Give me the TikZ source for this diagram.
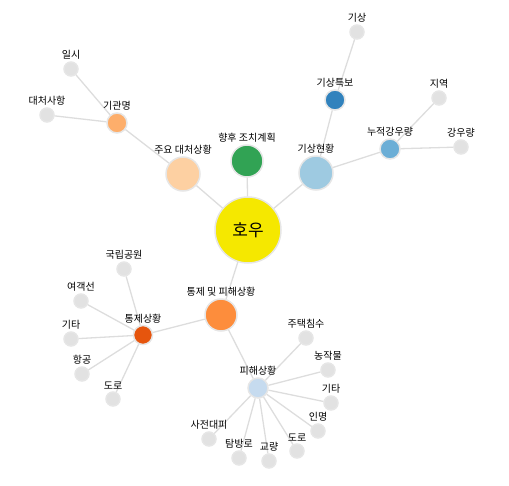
\documentclass[tikz,border=0pt]{standalone}
\usepackage{fontspec}
\newfontfamily\kr{Noto Sans CJK KR}
\definecolor{cYel}{RGB}{245,232,0}
\definecolor{cOr1}{HTML}{FDD0A2}
\definecolor{cOr2}{HTML}{FDAE6B}
\definecolor{cOr3}{HTML}{FD8D3C}
\definecolor{cOr4}{HTML}{E6550D}
\definecolor{cGrn}{HTML}{31A354}
\definecolor{cBl1}{HTML}{9ECAE1}
\definecolor{cBl2}{HTML}{3182BD}
\definecolor{cBl3}{HTML}{6BAED6}
\definecolor{cBl4}{HTML}{C6DBEF}
\definecolor{cLeaf}{HTML}{E2E2E2}
\definecolor{cRim}{HTML}{E6E6E6}
\definecolor{cEdge}{HTML}{DDDDDD}
\tikzset{
  nd/.style={circle, draw=cRim, line width=1.5pt, inner sep=0pt, minimum size=#1},
  lf/.style={nd=14pt, fill=cLeaf},
  lab/.style={font=\kr\fontsize{10}{12}\selectfont, anchor=south, inner sep=0pt, yshift=1.5pt},
  ed/.style={draw=cEdge, line width=1.3pt}
}
\begin{document}
\begin{tikzpicture}[x=1pt,y=-1pt]
\useasboundingbox (0,0) rectangle (509,485);
% nodes
\node[nd=66pt, fill=cYel] (hw) at (248,230) {};
\node[nd=34pt, fill=cOr1] (jy) at (183,174) {};
\node[nd=32pt, fill=cGrn] (hh) at (247,161) {};
\node[nd=34pt, fill=cBl1] (gh) at (316,173) {};
\node[nd=20pt, fill=cBl2] (gt) at (335,100) {};
\node[lf] (gs) at (357,32) {};
\node[nd=20pt, fill=cBl3] (nj) at (390,149) {};
\node[lf] (jiy) at (439,98) {};
\node[lf] (gry) at (461,147) {};
\node[nd=20pt, fill=cOr2] (gg) at (117,123) {};
\node[lf] (il) at (71,69) {};
\node[lf] (dc) at (47,115) {};
\node[nd=32pt, fill=cOr3] (tp) at (221,315) {};
\node[nd=19pt, fill=cOr4] (ts) at (143,335) {};
\node[lf] (kr) at (124,269) {};
\node[lf] (yg) at (81,301) {};
\node[lf] (gt1) at (71,339) {};
\node[lf] (hg) at (82,374) {};
\node[lf] (dr1) at (113,399) {};
\node[nd=20pt, fill=cBl4] (ph) at (258,388) {};
\node[lf] (jt) at (306,338) {};
\node[lf] (nc) at (328,370) {};
\node[lf] (gt2) at (331,403) {};
\node[lf] (im) at (318,431) {};
\node[lf] (dr2) at (297,451) {};
\node[lf] (gy) at (269,461) {};
\node[lf] (tb) at (239,458) {};
\node[lf] (sj) at (209,439) {};
% edges
\path[ed] (hw) -- (jy) (hw) -- (hh) (hw) -- (gh) (hw) -- (tp)
  (jy) -- (gg) (gg) -- (il) (gg) -- (dc)
  (gh) -- (gt) (gt) -- (gs) (gh) -- (nj) (nj) -- (jiy) (nj) -- (gry)
  (tp) -- (ts) (ts) -- (kr) (ts) -- (yg) (ts) -- (gt1) (ts) -- (hg) (ts) -- (dr1)
  (tp) -- (ph) (ph) -- (jt) (ph) -- (nc) (ph) -- (gt2) (ph) -- (im) (ph) -- (dr2) (ph) -- (gy) (ph) -- (tb) (ph) -- (sj);
% labels
\node[font=\kr\fontsize{17}{19}\selectfont, inner sep=0pt] (hwl) at (hw) {호우};
\node[lab] (l1) at (jy.north) {주요 대처상황};
\node[lab] (l2) at (hh.north) {향후 조치계획};
\node[lab] (l3) at (gh.north) {기상현황};
\node[lab] (l4) at (gt.north) {기상특보};
\node[lab] (l5) at (gs.north) {기상};
\node[lab] (l6) at (nj.north) {누적강우량};
\node[lab] (l7) at (jiy.north) {지역};
\node[lab] (l8) at (gry.north) {강우량};
\node[lab] (l9) at (gg.north) {기관명};
\node[lab] (l10) at (il.north) {일시};
\node[lab] (l11) at (dc.north) {대처사항};
\node[lab] (l12) at (tp.north) {통제 및 피해상황};
\node[lab] (l13) at (ts.north) {통제상황};
\node[lab] (l14) at (kr.north) {국립공원};
\node[lab] (l15) at (yg.north) {여객선};
\node[lab] (l16) at (gt1.north) {기타};
\node[lab] (l17) at (hg.north) {항공};
\node[lab] (l18) at (dr1.north) {도로};
\node[lab] (l19) at (ph.north) {피해상황};
\node[lab] (l20) at (jt.north) {주택침수};
\node[lab] (l21) at (nc.north) {농작물};
\node[lab] (l22) at (gt2.north) {기타};
\node[lab] (l23) at (im.north) {인명};
\node[lab] (l24) at (dr2.north) {도로};
\node[lab] (l25) at (gy.north) {교량};
\node[lab] (l26) at (tb.north) {탐방로};
\node[lab] (l27) at (sj.north) {사전대피};
\end{tikzpicture}
\end{document}
